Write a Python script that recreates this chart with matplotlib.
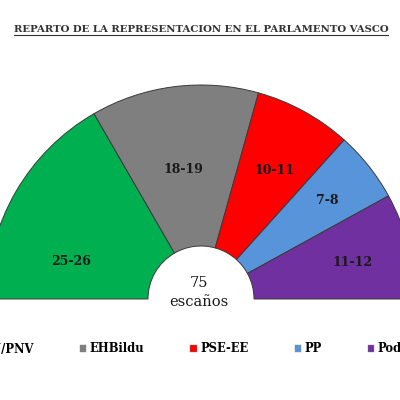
import matplotlib.pyplot as plt
from matplotlib.patches import Wedge, Patch
from matplotlib.lines import Line2D
import numpy as np

# datos
partidos = ['EAJ/PNV', 'EHBildu', 'PSE-EE', 'PP', 'Podemos']
escanos = [25, 19, 11, 8, 12]
etiquetas = ['25-26', '18-19', '10-11', '7-8', '11-12']
colores = ['#00B050', '#7F7F7F', '#FF0000', '#5894DA', '#7030A0']
total = 75

# ajustes de posicion de las etiquetas (grados, fraccion de radio)
desvio = [14, 0.5, -1, -0.5, -1]
radio_et = [0.63, 0.61, 0.69, 0.75, 0.73]

fig = plt.figure(figsize=(4, 4), dpi=100)
ax = fig.add_axes([0, 0, 1, 1])
s = 214.0
cx, cy = 201.0, 299.0
ax.set_xlim(-cx / s, (400 - cx) / s)
ax.set_ylim(-(400 - cy) / s, cy / s)
ax.axis('off')

r_in = 53 / s
ang = 180.0
for i, n in enumerate(escanos):
    paso = n / total * 180.0
    w = Wedge((0, 0), 1.0, ang - paso, ang, width=1 - r_in,
              facecolor=colores[i], edgecolor='#3a3a3a', linewidth=0.7)
    ax.add_patch(w)
    medio = np.radians(ang - paso / 2 + desvio[i])
    ax.text(radio_et[i] * np.cos(medio), radio_et[i] * np.sin(medio), etiquetas[i],
            ha='center', va='center', fontsize=9, fontweight='bold',
            family='DejaVu Serif', color='#1a1a1a')
    ang -= paso

ax.text(-2 / s, 16 / s, str(total), ha='center', va='center', fontsize=10.5,
        family='DejaVu Serif', color='#1a1a1a')
ax.text(-2 / s, -3 / s, 'escaños', ha='center', va='center', fontsize=10.5,
        family='DejaVu Serif', color='#1a1a1a')

# titulo subrayado
t = fig.text(201 / 400, 1 - 29 / 400, 'REPARTO DE LA REPRESENTACION EN EL PARLAMENTO VASCO',
             ha='center', va='center', fontsize=7.3, fontweight='bold',
             family='DejaVu Serif', color='#333333')
fig.canvas.draw()
bb = t.get_window_extent()
y_line = 1 - 35 / 400
fig.add_artist(Line2D([bb.x0 / 400, bb.x1 / 400], [y_line, y_line],
                      transform=fig.transFigure, color='#333333', linewidth=0.8))

# leyenda
handles = [Patch(facecolor=c, edgecolor='#888888', linewidth=0.3) for c in colores]
fig.legend(handles, partidos, loc='center', bbox_to_anchor=(202 / 400, 1 - 349 / 400),
           ncol=5, frameon=False, handlelength=0.55, handleheight=0.55,
           handletextpad=0.3, columnspacing=4.0,
           prop={'family': 'DejaVu Serif', 'weight': 'heavy', 'size': 8.3})

fig.savefig('out.png', dpi=100, facecolor='white')
